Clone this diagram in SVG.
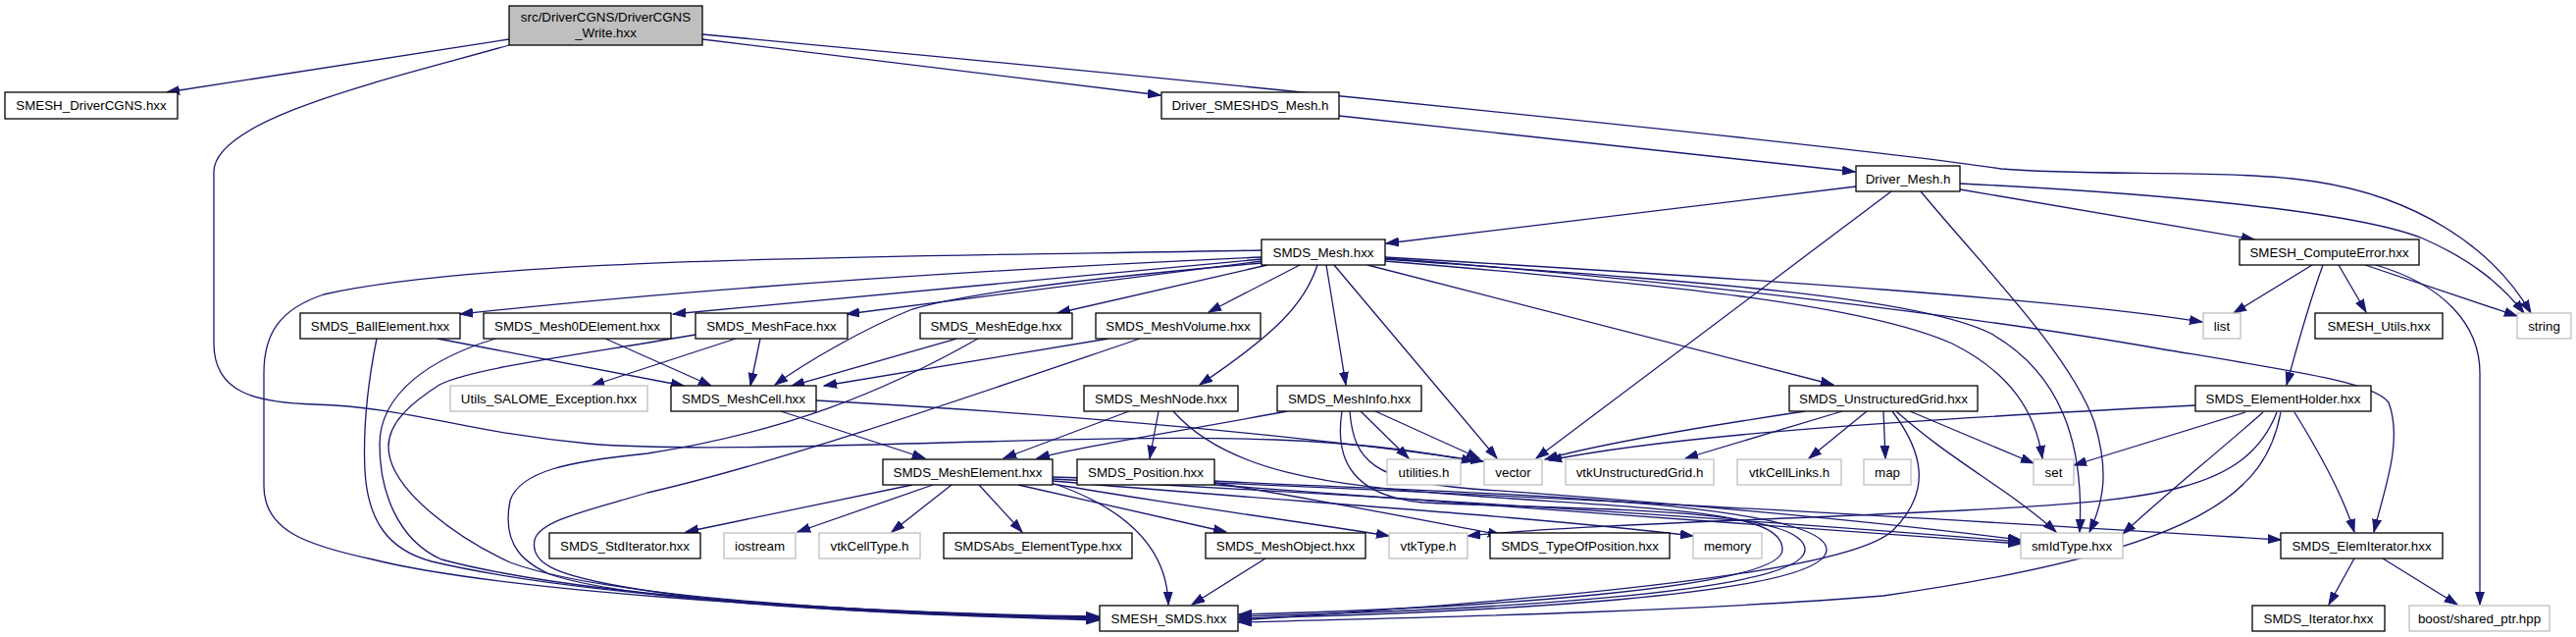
<svg xmlns="http://www.w3.org/2000/svg" width="2626" height="649" viewBox="0 0 2626 649">
<defs>
<marker id="ah" markerWidth="14" markerHeight="10" refX="13" refY="5" orient="auto" markerUnits="userSpaceOnUse"><path d="M0,0.6 L13,5 L0,9.4 z" fill="#191970" stroke="#191970" stroke-width="1"/></marker>
<style>
.n rect{fill:#fff;stroke:#000;stroke-width:1.3}
.g rect{fill:#fff;stroke:#bfbfbf;stroke-width:1.3}
.r rect{fill:#bfbfbf;stroke:#000;stroke-width:1.3}
text{font-family:"Liberation Sans",Arial,sans-serif;font-size:13.33px;fill:#000;text-anchor:middle}
#edges path{fill:none;stroke:#191970;stroke-width:1.3;marker-end:url(#ah)}
</style>
</defs>
<rect width="2626" height="649" fill="#fff"/>
<g id="edges">
<path d="M519,40 L170,94"/>
<path d="M519,46 C400,80 218,120 218,175 L218,350 C218,400 260,410 320,412 C420,415 470,440 600,452 C750,465 1100,440 1300,448 C1400,452 1460,462 1503,470"/>
<path d="M716,40 L1183,97"/>
<path d="M716,35 C1200,80 1900,150 2040,172 C2130,180 2280,172 2360,185 C2460,200 2540,250 2580,319"/>
<path d="M1365,118 L1891,175"/>
<path d="M1892,190 L1413,248"/>
<path d="M1928,195 L1566,467"/>
<path d="M1998,193 L2298,244"/>
<path d="M1998,187 C2200,197 2400,215 2470,243 C2520,265 2550,290 2573,319"/>
<path d="M1958,195 C2020,270 2110,360 2135,430 C2150,480 2145,510 2130,542"/>
<path d="M1286,262 C1000,275 700,295 469,320"/>
<path d="M1286,264 L686,320"/>
<path d="M1286,266 L863,320"/>
<path d="M1286,268 C1150,280 1000,295 930,315 C880,335 820,370 790,392"/>
<path d="M1292,270 L1078,319"/>
<path d="M1325,270 L1232,318"/>
<path d="M1343,270 C1330,310 1300,340 1223,392"/>
<path d="M1352,270 L1372,392"/>
<path d="M1360,270 L1526,467"/>
<path d="M1394,270 L1869,392"/>
<path d="M1412,262 C1800,285 2100,305 2245,328"/>
<path d="M1412,266 C1700,290 1900,310 1990,350 C2050,380 2075,420 2082,467"/>
<path d="M1412,264 C1700,285 1950,300 2030,340 C2100,380 2125,450 2120,542"/>
<path d="M1412,263 C1700,285 2000,320 2200,355 C2350,380 2420,390 2435,410 C2450,450 2430,500 2420,542"/>
<path d="M1286,255 C900,262 500,262 330,300 C285,315 269,340 269,380 L269,495 C269,540 310,555 380,570 C500,600 800,622 1120,630"/>
<path d="M446,345 L697,393"/>
<path d="M617,345 L725,393"/>
<path d="M384,345 C375,390 370,440 372,480 C375,530 395,560 440,572 C600,610 900,625 1120,628"/>
<path d="M505,345 C440,365 387,400 387,453 C387,500 405,550 450,570 C600,610 900,625 1120,629"/>
<path d="M775,345 L765,393"/>
<path d="M750,345 L603,393"/>
<path d="M709,341 C600,360 480,375 448,392 C420,410 396,430 396,455 C396,500 470,550 520,573 C620,610 900,625 1120,630"/>
<path d="M975,345 L807,393"/>
<path d="M997,345 C900,400 800,440 660,462 C580,470 530,480 520,510 C510,560 540,575 560,585 C650,615 900,625 1120,631"/>
<path d="M1130,345 L840,393"/>
<path d="M1162,345 C1000,400 800,470 660,502 C600,520 550,530 545,550 C540,575 570,585 620,595 C750,620 950,627 1120,632"/>
<path d="M796,419 L943,467"/>
<path d="M832,408 C1050,420 1300,440 1512,470"/>
<path d="M1151,419 L1023,467"/>
<path d="M1181,419 L1172,467"/>
<path d="M1196,419 C1250,480 1350,495 1500,505 C1700,520 1817,520 1817,560 C1817,600 1500,620 1263,626"/>
<path d="M1312,419 C1200,440 1100,455 1057,467"/>
<path d="M1387,419 L1436,467"/>
<path d="M1402,419 L1508,467"/>
<path d="M1368,419 C1360,470 1380,505 1450,512 C1600,520 1840,515 1840,560 C1840,605 1500,622 1263,628"/>
<path d="M1376,419 C1380,470 1400,490 1500,498 C1700,512 1900,530 2060,550"/>
<path d="M1238,490 C1400,500 1862,505 1862,560 C1862,608 1500,624 1263,630"/>
<path d="M930,494 L699,542"/>
<path d="M951,494 L813,542"/>
<path d="M970,494 L909,542"/>
<path d="M998,494 L1042,542"/>
<path d="M1038,494 L1250,542"/>
<path d="M1078,494 C1150,520 1190,560 1191,616"/>
<path d="M1073,493 C1200,515 1350,535 1416,546"/>
<path d="M1238,492 C1350,510 1450,530 1530,545"/>
<path d="M1073,490 C1300,510 1550,525 1726,546"/>
<path d="M1073,488 C1400,505 1800,530 2060,552"/>
<path d="M1238,494 C1500,512 1800,537 2060,554"/>
<path d="M1073,486 C1500,500 2000,530 2325,550"/>
<path d="M1840,419 C1700,440 1620,455 1575,468"/>
<path d="M1878,419 L1718,467"/>
<path d="M1903,419 L1844,467"/>
<path d="M1920,419 L1922,467"/>
<path d="M1947,419 L2073,472"/>
<path d="M1933,419 C1990,470 2050,500 2096,542"/>
<path d="M1929,419 C1960,460 1970,500 1930,540 C1880,590 1500,615 1263,632"/>
<path d="M2238,413 C1900,430 1700,445 1579,469"/>
<path d="M2289,420 L2114,474"/>
<path d="M2307,420 C2250,470 2200,510 2164,544"/>
<path d="M2325,420 C2310,500 2250,560 1920,607 C1700,625 1400,630 1263,634"/>
<path d="M2321,420 C2290,500 2200,510 2000,520 C1800,530 1600,535 1496,546"/>
<path d="M2339,420 C2370,470 2390,510 2400,542"/>
<path d="M2400,569 L2374,616"/>
<path d="M2429,569 L2505,616"/>
<path d="M1290,569 L1215,616"/>
<path d="M2357,270 L2277,319"/>
<path d="M2368,270 C2350,320 2340,360 2331,392"/>
<path d="M2384,270 L2412,318"/>
<path d="M2411,270 L2566,322"/>
<path d="M2422,270 C2490,290 2528,330 2528,380 L2528,616"/>
</g>
<g id="n0" class="r"><rect x="519" y="6" width="197" height="40"/><text x="617.5" y="22">src/DriverCGNS/DriverCGNS</text><text x="617.5" y="38">_Write.hxx</text></g>
<g id="n1" class="n"><rect x="5" y="94" width="176" height="27"/><text x="93" y="112">SMESH_DriverCGNS.hxx</text></g>
<g id="n2" class="n"><rect x="1184" y="94" width="181" height="27"/><text x="1274.5" y="112">Driver_SMESHDS_Mesh.h</text></g>
<g id="n3" class="n"><rect x="1892" y="169" width="106" height="26"/><text x="1945" y="186.7">Driver_Mesh.h</text></g>
<g id="n4" class="n"><rect x="1286" y="244" width="126" height="26"/><text x="1349" y="261.7">SMDS_Mesh.hxx</text></g>
<g id="n5" class="n"><rect x="2283" y="244" width="183" height="26"/><text x="2374.5" y="261.7">SMESH_ComputeError.hxx</text></g>
<g id="n6" class="n"><rect x="306" y="319" width="163" height="26"/><text x="387.5" y="336.7">SMDS_BallElement.hxx</text></g>
<g id="n7" class="n"><rect x="493" y="319" width="191" height="26"/><text x="588.5" y="336.7">SMDS_Mesh0DElement.hxx</text></g>
<g id="n8" class="n"><rect x="709" y="319" width="155" height="26"/><text x="786.5" y="336.7">SMDS_MeshFace.hxx</text></g>
<g id="n9" class="n"><rect x="938" y="319" width="155" height="26"/><text x="1015.5" y="336.7">SMDS_MeshEdge.hxx</text></g>
<g id="n10" class="n"><rect x="1117" y="319" width="168" height="26"/><text x="1201" y="336.7">SMDS_MeshVolume.hxx</text></g>
<g id="n11" class="g"><rect x="2246" y="319" width="38" height="26"/><text x="2265" y="336.7">list</text></g>
<g id="n12" class="n"><rect x="2360" y="319" width="130" height="26"/><text x="2425" y="336.7">SMESH_Utils.hxx</text></g>
<g id="n13" class="g"><rect x="2566" y="319" width="55" height="26"/><text x="2593.5" y="336.7">string</text></g>
<g id="n14" class="g"><rect x="459" y="393" width="201" height="26"/><text x="559.5" y="410.7">Utils_SALOME_Exception.hxx</text></g>
<g id="n15" class="n"><rect x="684" y="393" width="148" height="26"/><text x="758" y="410.7">SMDS_MeshCell.hxx</text></g>
<g id="n16" class="n"><rect x="1105" y="393" width="157" height="26"/><text x="1183.5" y="410.7">SMDS_MeshNode.hxx</text></g>
<g id="n17" class="n"><rect x="1302" y="393" width="147" height="26"/><text x="1375.5" y="410.7">SMDS_MeshInfo.hxx</text></g>
<g id="n18" class="n"><rect x="1824" y="393" width="192" height="26"/><text x="1920" y="410.7">SMDS_UnstructuredGrid.hxx</text></g>
<g id="n19" class="n"><rect x="2238" y="393" width="179" height="26"/><text x="2327.5" y="410.7">SMDS_ElementHolder.hxx</text></g>
<g id="n20" class="n"><rect x="900" y="468" width="173" height="26"/><text x="986.5" y="485.7">SMDS_MeshElement.hxx</text></g>
<g id="n21" class="n"><rect x="1098" y="468" width="140" height="26"/><text x="1168" y="485.7">SMDS_Position.hxx</text></g>
<g id="n22" class="g"><rect x="1414" y="468" width="75" height="26"/><text x="1451.5" y="485.7">utilities.h</text></g>
<g id="n23" class="g"><rect x="1513" y="468" width="59" height="26"/><text x="1542.5" y="485.7">vector</text></g>
<g id="n24" class="g"><rect x="1596" y="468" width="151" height="26"/><text x="1671.5" y="485.7">vtkUnstructuredGrid.h</text></g>
<g id="n25" class="g"><rect x="1771" y="468" width="106" height="26"/><text x="1824" y="485.7">vtkCellLinks.h</text></g>
<g id="n26" class="g"><rect x="1900" y="468" width="48" height="26"/><text x="1924" y="485.7">map</text></g>
<g id="n27" class="g"><rect x="2073" y="468" width="41" height="26"/><text x="2093.5" y="485.7">set</text></g>
<g id="n28" class="n"><rect x="560" y="543" width="154" height="26"/><text x="637" y="560.7">SMDS_StdIterator.hxx</text></g>
<g id="n29" class="g"><rect x="738" y="543" width="73" height="26"/><text x="774.5" y="560.7">iostream</text></g>
<g id="n30" class="g"><rect x="835" y="543" width="103" height="26"/><text x="886.5" y="560.7">vtkCellType.h</text></g>
<g id="n31" class="n"><rect x="962" y="543" width="192" height="26"/><text x="1058" y="560.7">SMDSAbs_ElementType.hxx</text></g>
<g id="n32" class="n"><rect x="1229" y="543" width="163" height="26"/><text x="1310.5" y="560.7">SMDS_MeshObject.hxx</text></g>
<g id="n33" class="g"><rect x="1416" y="543" width="80" height="26"/><text x="1456" y="560.7">vtkType.h</text></g>
<g id="n34" class="n"><rect x="1519" y="543" width="183" height="26"/><text x="1610.5" y="560.7">SMDS_TypeOfPosition.hxx</text></g>
<g id="n35" class="g"><rect x="1726" y="543" width="70" height="26"/><text x="1761" y="560.7">memory</text></g>
<g id="n36" class="g"><rect x="2060" y="543" width="104" height="26"/><text x="2112" y="560.7">smIdType.hxx</text></g>
<g id="n37" class="n"><rect x="2325" y="543" width="165" height="26"/><text x="2407.5" y="560.7">SMDS_ElemIterator.hxx</text></g>
<g id="n38" class="n"><rect x="1121" y="617" width="141" height="26"/><text x="1191.5" y="634.7">SMESH_SMDS.hxx</text></g>
<g id="n39" class="n"><rect x="2296" y="617" width="135" height="26"/><text x="2363.5" y="634.7">SMDS_Iterator.hxx</text></g>
<g id="n40" class="g"><rect x="2456" y="617" width="143" height="26"/><text x="2527.5" y="634.7">boost/shared_ptr.hpp</text></g>
</svg>
